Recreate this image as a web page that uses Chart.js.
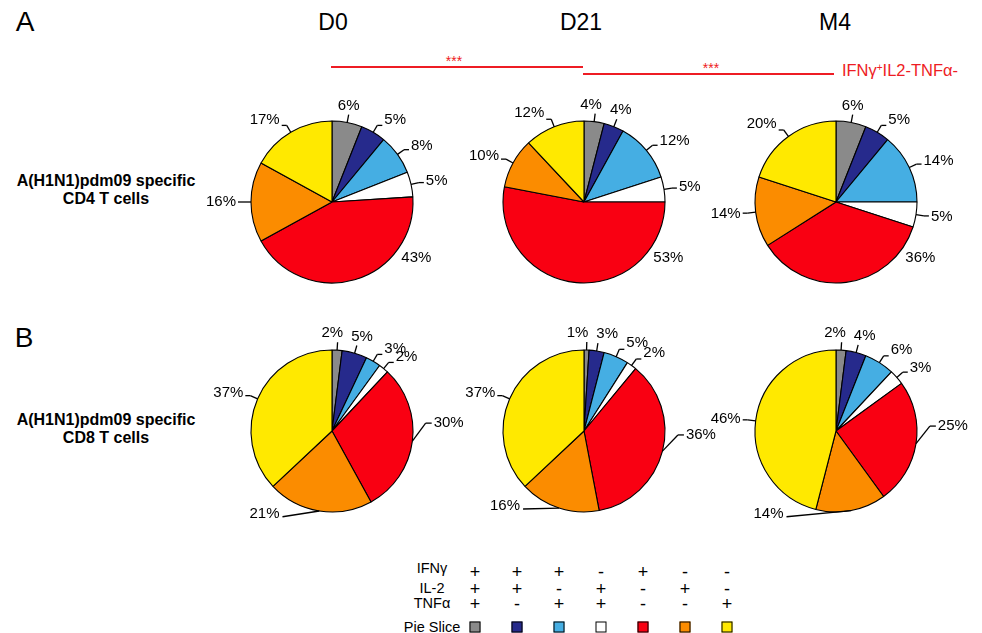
<!DOCTYPE html>
<html>
<head>
<meta charset="utf-8">
<script src="https://cdn.jsdelivr.net/npm/chart.js@4.4.1/dist/chart.umd.min.js"></script>
<style>
  html, body { margin: 0; padding: 0; background: #fff; }
  body { width: 982px; height: 633px; position: relative; overflow: hidden;
         font-family: "Liberation Sans", Arial, Helvetica, sans-serif; color: #000; }
  .t { position: absolute; white-space: nowrap; line-height: 1; transform: translate(-50%, -50%); }
  .panel { position: absolute; font-size: 28px; }
  .tp { font-size: 23px; }
  .rowlab { font-weight: bold; font-size: 16px; text-align: center; }
  .red { color: #ee1c24; }
  .hline { position: absolute; height: 2px; background: #ee1c24; }
  .leg { font-size: 14.5px; }
  .sgn { font-size: 18px; }
  .sq { position: absolute; width: 9px; height: 9px; border: 1px solid #000; transform: translate(-50%, -50%); }
  canvas.pie { position: absolute; }
</style>
</head>
<body>
<script>
// ---------------- data ----------------
const categories = ['IFNγ+IL-2+TNFα+', 'IFNγ+IL-2+TNFα-', 'IFNγ+IL-2-TNFα+', 'IFNγ-IL-2+TNFα+',
                    'IFNγ+IL-2-TNFα-', 'IFNγ-IL-2+TNFα-', 'IFNγ-IL-2-TNFα+'];
const timepoints = ['D0', 'D21', 'M4'];
const cellTypes = ['CD4 T cells', 'CD8 T cells'];
const cd4D0  = [6, 5, 8, 5, 43, 16, 17];
const cd4D21 = [4, 4, 12, 5, 53, 10, 12];
const cd4M4  = [6, 5, 14, 5, 36, 14, 20];
const cd8D0  = [2, 5, 3, 2, 30, 21, 37];
const cd8D21 = [1, 3, 5, 2, 36, 16, 37];
const cd8M4  = [2, 4, 6, 3, 25, 14, 46];
const ifngSigns = ['+', '+', '+', '-', '+', '-', '-'];
const il2Signs  = ['+', '+', '-', '+', '-', '+', '-'];
const tnfaSigns = ['+', '-', '+', '+', '-', '-', '+'];
const sliceColors = ['#8a8a8a', '#262a8c', '#45aee3', '#ffffff', '#f90012', '#fb8c00', '#ffe900'];

// ---------------- layout ----------------
const PIE_R = 81;
const colX = [332, 584, 836];
const rowY = [202, 431];
const CW = 300, CH = 250;
const panels = [
  { data: cd4D0, col: 0, row: 0 }, { data: cd4D21, col: 1, row: 0 }, { data: cd4M4, col: 2, row: 0 },
  { data: cd8D0, col: 0, row: 1 }, { data: cd8D21, col: 1, row: 1 }, { data: cd8M4, col: 2, row: 1 }
];

function addText(html, x, y, cls, style) {
  const d = document.createElement('div');
  d.className = 't ' + (cls || '');
  d.innerHTML = html;
  d.style.left = x + 'px';
  d.style.top = y + 'px';
  if (style) Object.assign(d.style, style);
  document.body.appendChild(d);
  return d;
}

// headings
addText('A', 25, 22, 'panel');
addText('B', 24, 338, 'panel');
timepoints.forEach((t, i) => addText(t, [333, 581, 835][i], 22, 'tp'));
addText('A(H1N1)pdm09 specific', 106, 181, 'rowlab');
addText(cellTypes[0], 106, 199, 'rowlab');
addText('A(H1N1)pdm09 specific', 106, 420, 'rowlab');
addText(cellTypes[1], 106, 438, 'rowlab');

// significance bars
function hline(x1, x2, y) {
  const d = document.createElement('div');
  d.className = 'hline';
  d.style.left = x1 + 'px'; d.style.width = (x2 - x1) + 'px'; d.style.top = (y - 1) + 'px';
  document.body.appendChild(d);
}
hline(331, 583, 67);
hline(583, 834, 74);
addText('***', 454, 61, 'red', { fontSize: '14px' });
addText('***', 711, 68, 'red', { fontSize: '14px' });
addText('IFNγ<sup style="font-size:10px;vertical-align:5px">+</sup>IL2-TNFα-', 900, 70, 'red', { fontSize: '16.5px' });

// bottom legend table
const legCols = [475, 517, 559, 601, 643, 685, 727];
const legLabelX = 432;
addText('IFNγ', legLabelX, 568, 'leg');
addText('IL-2', legLabelX, 588, 'leg');
addText('TNFα', legLabelX, 603, 'leg');
addText('Pie Slice', legLabelX, 627, 'leg');
[[ifngSigns, 572], [il2Signs, 589], [tnfaSigns, 604]].forEach(([signs, y]) => {
  signs.forEach((s, i) => addText(s, legCols[i], y, 'sgn'));
});
sliceColors.forEach((c, i) => {
  const d = document.createElement('div');
  d.className = 'sq';
  d.style.left = legCols[i] + 'px'; d.style.top = '627px';
  d.style.background = c;
  document.body.appendChild(d);
});

// ---------------- percentage labels plugin ----------------
const pctLabels = {
  id: 'pctLabels',
  afterDatasetsDraw(chart) {
    const ctx = chart.ctx;
    const meta = chart.getDatasetMeta(0);
    const vals = chart.data.datasets[0].data;
    ctx.save();
    ctx.font = '15px "Liberation Sans", Arial, sans-serif';
    ctx.fillStyle = '#000';
    ctx.strokeStyle = '#000';
    ctx.lineWidth = 1.3;
    ctx.textBaseline = 'middle';
    const line = (a, b) => { ctx.beginPath(); ctx.moveTo(a[0], a[1]); ctx.lineTo(b[0], b[1]); ctx.stroke(); };
    const tops = [];
    meta.data.forEach((arc, i) => {
      const p = arc.getProps(['x', 'y', 'startAngle', 'endAngle', 'outerRadius'], true);
      const r = p.outerRadius;
      const deg = a => a * 180 / Math.PI + 90;
      const s = deg(p.startAngle), e = deg(p.endAngle), m = (s + e) / 2;
      const share = (e - s) / 360;
      const pt = (d, rad) => [p.x + rad * Math.sin(d * Math.PI / 180), p.y - rad * Math.cos(d * Math.PI / 180)];
      const txt = vals[i] + '%';
      const w = ctx.measureText(txt).width;
      const sn = Math.sin(m * Math.PI / 180), cs = Math.cos(m * Math.PI / 180);
      if (m > 140 && m < 250 && s < 130) {
        const a = pt(128, r + 7);
        ctx.textAlign = 'left';
        ctx.fillText(txt, a[0], a[1] + 2);
      } else if (m > 140 && m < 250) {
        const p0 = pt(m, r);
        const a = pt(Math.max(210, m + 20), r + 18);
        line(p0, a);
        ctx.textAlign = 'right';
        ctx.fillText(txt, a[0] - 3, a[1] - 3);
      } else if (share >= 0.15 && m >= 80 && m <= 130) {
        const p0 = pt(m, r);
        const a = pt(m - 12, r + 13);
        line(p0, a);
        const b = [a[0] + 6, a[1]];
        line(a, b);
        ctx.textAlign = 'left';
        ctx.fillText(txt, b[0] + 2, b[1]);
      } else {
        const p0 = pt(m, r), p1 = pt(m, r + 8);
        line(p0, p1);
        if (sn > -0.1 && sn < 0.38 && cs > 0) {
          tops.push({ i, txt, w, x: p1[0], y: p1[1] - 9 });
        } else {
          const sg = sn >= 0 ? 1 : -1;
          const p2 = [p1[0] + sg * 5, p1[1]];
          line(p1, p2);
          ctx.textAlign = sg > 0 ? 'left' : 'right';
          ctx.fillText(txt, p2[0] + sg * 2, p2[1] - 7 * cs);
        }
      }
    });
    // spread neighbouring top labels apart so they do not collide
    for (let k = 1; k < tops.length; k++) {
      const a = tops[k - 1], b = tops[k];
      if (b.i !== a.i + 1) continue;
      const need = (a.w + b.w) / 2 + 8;
      const gap = b.x - a.x;
      if (gap < need) { const sh = (need - gap) / 2; a.x -= sh; b.x += sh; }
    }
    ctx.textAlign = 'center';
    tops.forEach(t => ctx.fillText(t.txt, t.x, t.y));
    ctx.restore();
  }
};

// ---------------- charts ----------------
panels.forEach(pn => {
  const cx = colX[pn.col], cy = rowY[pn.row];
  const cv = document.createElement('canvas');
  cv.className = 'pie';
  cv.width = CW; cv.height = CH;
  cv.style.width = CW + 'px'; cv.style.height = CH + 'px';
  cv.style.left = (cx - CW / 2) + 'px';
  cv.style.top = (cy - CH / 2) + 'px';
  document.body.appendChild(cv);
  new Chart(cv.getContext('2d'), {
    type: 'pie',
    data: {
      labels: categories,
      datasets: [{
        data: pn.data,
        backgroundColor: sliceColors,
        borderColor: '#000',
        borderWidth: 1.1,
        radius: PIE_R
      }]
    },
    options: {
      responsive: false,
      animation: false,
      events: [],
      layout: { padding: { left: (CW - 2 * PIE_R) / 2, right: (CW - 2 * PIE_R) / 2,
                           top: (CH - 2 * PIE_R) / 2, bottom: (CH - 2 * PIE_R) / 2 } },
      plugins: { legend: { display: false }, tooltip: { enabled: false }, title: { display: false } }
    },
    plugins: [pctLabels]
  });
});
</script>
</body>
</html>
